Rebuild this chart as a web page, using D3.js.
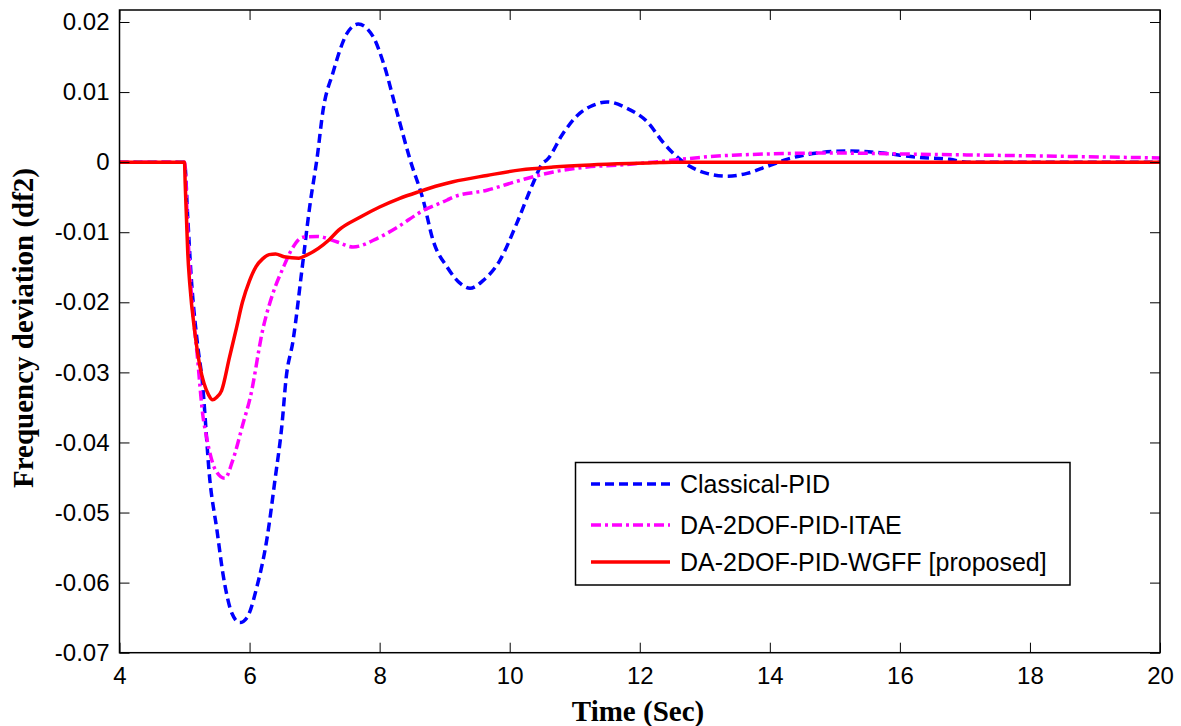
<!DOCTYPE html>
<html>
<head>
<meta charset="utf-8">
<script src="https://cdn.jsdelivr.net/npm/d3@7"></script>
<style>
  html, body { margin: 0; padding: 0; background: #fff; }
  svg { display: block; }
</style>
</head>
<body>
<svg id="chart" width="1181" height="726"></svg>
<script>
// ---- data ----
const xTicks = [4, 6, 8, 10, 12, 14, 16, 18, 20];
const yTicks = [0.02, 0.01, 0, -0.01, -0.02, -0.03, -0.04, -0.05, -0.06, -0.07];
const seriesNames = ["Classical-PID", "DA-2DOF-PID-ITAE", "DA-2DOF-PID-WGFF [proposed]"];

const classicalT = [4, 5.0, 5.05, 5.1, 5.2, 5.27, 5.39, 5.5, 5.59, 5.73, 5.85, 5.96, 6.11, 6.27, 6.39, 6.5, 6.56, 6.67, 6.81, 6.93, 7.04, 7.13, 7.28, 7.5, 7.67, 7.9, 8.06, 8.27, 8.47, 8.67, 8.82, 9.04, 9.24, 9.39, 9.59, 9.85, 10.11, 10.36, 10.51, 10.57, 10.82, 11.08, 11.28, 11.5, 11.8, 12.11, 12.37, 12.51, 12.77, 13.03, 13.34, 13.65, 13.96, 14.26, 14.73, 15.23, 15.74, 16.26, 16.77, 17.03, 18, 20];
const classicalV = [0, 0, -0.008, -0.016, -0.026, -0.031, -0.0454, -0.0526, -0.0587, -0.0644, -0.0657, -0.065, -0.0607, -0.0536, -0.0454, -0.0373, -0.031, -0.0254, -0.015, -0.006, 0.0007, 0.0074, 0.0127, 0.0184, 0.0197, 0.0179, 0.0141, 0.007, 0.0003, -0.0054, -0.0111, -0.015, -0.0173, -0.018, -0.0169, -0.014, -0.0087, -0.003, -0.0001, 0.0003, 0.0041, 0.007, 0.0081, 0.0086, 0.0077, 0.0058, 0.0027, 0.0013, -0.0006, -0.0016, -0.002, -0.0016, -0.0006, 0.0004, 0.0013, 0.0016, 0.0013, 0.0007, 0.0004, 0, 0, 0];

const itaeT = [4, 5.0, 5.05, 5.1, 5.2, 5.28, 5.34, 5.48, 5.62, 5.74, 5.9, 6.01, 6.21, 6.36, 6.52, 6.67, 6.82, 7.04, 7.35, 7.59, 7.96, 8.27, 8.67, 9.04, 9.13, 9.65, 10.16, 10.67, 11.19, 11.7, 12.2, 12.62, 13.43, 14.97, 16.5, 18.04, 20];
const itaeV = [0, 0, -0.01, -0.018, -0.028, -0.036, -0.0393, -0.044, -0.0451, -0.0426, -0.0373, -0.0336, -0.0236, -0.0187, -0.015, -0.0121, -0.0107, -0.0106, -0.0114, -0.0121, -0.0109, -0.0093, -0.0069, -0.0054, -0.005, -0.004, -0.0026, -0.0014, -0.0007, -0.0004, 0, 0.0004, 0.001, 0.0013, 0.0011, 0.0009, 0.0006];

const wgffT = [4, 5.0, 5.01, 5.03, 5.05, 5.08, 5.16, 5.24, 5.3, 5.37, 5.43, 5.5, 5.57, 5.69, 5.8, 5.89, 6.0, 6.1, 6.2, 6.3, 6.4, 6.53, 6.76, 6.87, 7.22, 7.37, 7.69, 8.0, 8.3, 8.61, 8.92, 9.13, 9.65, 10.17, 10.67, 11.24, 12.2, 12.5, 20];
const wgffV = [0, 0, -0.003, -0.008, -0.013, -0.0173, -0.0244, -0.0293, -0.0316, -0.0332, -0.0339, -0.0335, -0.0326, -0.0279, -0.0236, -0.02, -0.0169, -0.0149, -0.0138, -0.0132, -0.0131, -0.0135, -0.0137, -0.0133, -0.0111, -0.0097, -0.0079, -0.0064, -0.0052, -0.0042, -0.0033, -0.0028, -0.0019, -0.0011, -0.0007, -0.0004, -0.0001, 0, 0];

// ---- layout ----
const svg = d3.select("#chart");
const L = 119.5, R = 1160, T = 10, B = 652.7;
const x = d3.scaleLinear().domain([4, 20]).range([L, R]);
const y = d3.scaleLinear().domain([-0.07, 0.02 + 12 / 7008]).range([B, T]);

const series = [
  { name: seriesNames[0], t: classicalT, v: classicalV, color: "#0000ff", dash: "9,5" },
  { name: seriesNames[1], t: itaeT, v: itaeV, color: "#ff00ff", dash: "10,4,3,4" },
  { name: seriesNames[2], t: wgffT, v: wgffV, color: "#ff0000", dash: null }
];

svg.append("defs").append("clipPath").attr("id", "clip")
  .append("rect").attr("x", L).attr("y", T).attr("width", R - L).attr("height", B - T);

const line = d3.line().x(d => x(d[0])).y(d => y(d[1])).curve(d3.curveMonotoneX);

const plot = svg.append("g").attr("clip-path", "url(#clip)");
series.forEach(s => {
  const pts = s.t.map((t, i) => [t, s.v[i]]);
  plot.append("path")
    .datum(pts)
    .attr("d", line)
    .attr("fill", "none")
    .attr("stroke", s.color)
    .attr("stroke-width", 3.5)
    .attr("stroke-dasharray", s.dash)
    .attr("stroke-linejoin", "round");
});

// axes (ticks inside, on all four sides)
const fontTick = "'Liberation Sans', Arial, sans-serif";
const yFmt = d => d === 0 ? "0" : d3.format(".2f")(d).replace("\u2212", "-");
const gxB = svg.append("g").attr("transform", `translate(0,${B})`)
  .call(d3.axisBottom(x).tickValues(xTicks).tickSize(-10).tickPadding(14).tickFormat(d3.format("d")));
const gxT = svg.append("g").attr("transform", `translate(0,${T})`)
  .call(d3.axisTop(x).tickValues(xTicks).tickSize(-10).tickFormat(""));
const gyL = svg.append("g").attr("transform", `translate(${L},0)`)
  .call(d3.axisLeft(y).tickValues(yTicks).tickSize(-10).tickPadding(10).tickFormat(yFmt));
const gyR = svg.append("g").attr("transform", `translate(${R},0)`)
  .call(d3.axisRight(y).tickValues(yTicks).tickSize(-10).tickFormat(""));

[gxB, gxT, gyL, gyR].forEach(g => {
  g.select(".domain").remove();
  g.selectAll(".tick line").attr("stroke", "#000").attr("stroke-width", 1);
  g.selectAll(".tick text").attr("fill", "#000").style("font-family", fontTick).style("font-size", "24px");
});
gxB.selectAll(".tick text").attr("dy", "0.71em");

svg.append("rect").attr("x", L).attr("y", T).attr("width", R - L).attr("height", B - T)
  .attr("fill", "none").attr("stroke", "#000").attr("stroke-width", 1.5);

// axis titles
const fontTitle = "'Liberation Serif', 'Times New Roman', serif";
svg.append("text").attr("x", 638).attr("y", 721).attr("text-anchor", "middle")
  .style("font-family", fontTitle).style("font-weight", "bold").style("font-size", "29px")
  .text("Time (Sec)");
svg.append("text").attr("transform", "translate(33,328) rotate(-90)").attr("text-anchor", "middle")
  .style("font-family", fontTitle).style("font-weight", "bold").style("font-size", "29px")
  .text("Frequency deviation (df2)");

// legend
const lg = svg.append("g");
lg.append("rect").attr("x", 575.5).attr("y", 462.5).attr("width", 494.5).attr("height", 122.5)
  .attr("fill", "#fff").attr("stroke", "#000").attr("stroke-width", 1.5);
const rowsY = [484, 525, 562];
series.forEach((s, i) => {
  lg.append("line").attr("x1", 591).attr("x2", 670).attr("y1", rowsY[i]).attr("y2", rowsY[i])
    .attr("stroke", s.color).attr("stroke-width", 3.5).attr("stroke-dasharray", s.dash);
  lg.append("text").attr("x", 680).attr("y", rowsY[i]).attr("dy", "0.35em")
    .style("font-family", fontTick).style("font-size", "25px").attr("fill", "#000")
    .text(s.name);
});
</script>
</body>
</html>
